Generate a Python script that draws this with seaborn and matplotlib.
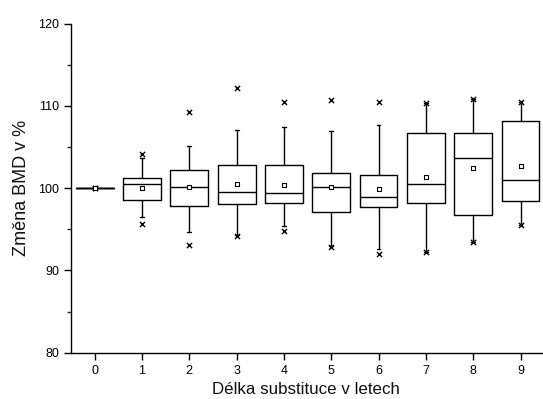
import matplotlib
matplotlib.use("Agg")
import matplotlib.pyplot as plt
import seaborn as sns
import numpy as np
from matplotlib.ticker import MultipleLocator

# ---- data ----
years = [0, 1, 2, 3, 4, 5, 6, 7, 8, 9]
q1 = [100, 98.6, 97.85, 98.05, 98.15, 97.15, 97.75, 98.15, 96.75, 98.45]
medians = [100, 100.5, 100.15, 99.55, 99.45, 100.15, 98.95, 100.5, 103.7, 101.05]
q3 = [100, 101.2, 102.25, 102.8, 102.8, 101.8, 101.6, 106.75, 106.75, 108.2]
whisker_low = [100, 96.5, 94.65, 94.35, 95.4, 92.95, 92.6, 92.25, 93.4, 95.5]
whisker_high = [100, 103.7, 105.1, 107.1, 107.4, 106.9, 107.7, 110.3, 110.8, 110.5]
means = [100, 100.05, 100.2, 100.5, 100.35, 100.15, 99.85, 101.4, 102.5, 102.7]
minima = [100, 95.6, 93.15, 94.15, 94.75, 92.9, 92.0, 92.25, 93.4, 95.5]
maxima = [100, 104.2, 109.25, 112.2, 110.45, 110.75, 110.5, 110.3, 110.8, 110.5]

sns.set_style("ticks")
plt.rcParams['font.family'] = ['Liberation Sans', 'DejaVu Sans']

fig = plt.figure(figsize=(5.43, 3.99), dpi=100)
ax = fig.add_axes([0.1308, 0.116, 0.867, 0.8246])

stats = []
for i in range(len(years)):
    stats.append(dict(q1=q1[i], med=medians[i], q3=q3[i],
                      whislo=whisker_low[i], whishi=whisker_high[i],
                      fliers=[], label=str(years[i])))

lw = 1.0
ax.bxp(stats, positions=years, widths=0.8, showfliers=False, patch_artist=False,
       boxprops=dict(color='black', linewidth=lw),
       medianprops=dict(color='black', linewidth=lw),
       whiskerprops=dict(color='black', linewidth=lw),
       capprops=dict(color='black', linewidth=lw),
       capwidths=0.08, manage_ticks=False)

# min / max markers
sns.scatterplot(x=years, y=minima, marker='x', color='black', s=14,
                linewidth=1.0, ax=ax, zorder=4)
sns.scatterplot(x=years, y=maxima, marker='x', color='black', s=14,
                linewidth=1.0, ax=ax, zorder=4)
# mean markers
sns.scatterplot(x=years, y=means, marker='s', facecolor='white',
                edgecolor='black', s=10, linewidth=0.8, ax=ax, zorder=5)

ax.set_xlim(-0.5, 9.45)
ax.set_ylim(80, 120)
ax.set_xticks(years)
ax.set_xticklabels([str(y) for y in years])
ax.yaxis.set_major_locator(MultipleLocator(10))
ax.yaxis.set_minor_locator(MultipleLocator(5))

for s in ['top', 'right']:
    ax.spines[s].set_visible(False)
for s in ['left', 'bottom']:
    ax.spines[s].set_linewidth(1.0)
    ax.spines[s].set_color('black')

ax.tick_params(axis='both', which='major', direction='out', length=5, width=1.0,
               labelsize=9, colors='black', pad=3.5)
ax.tick_params(axis='y', which='minor', direction='out', length=3, width=1.0)

ax.set_xlabel('Délka substituce v letech', fontsize=12.2, labelpad=4, color='#111111')
ax.set_ylabel('Změna BMD v %', fontsize=13, labelpad=6, color='#111111')

fig.savefig('out.png', dpi=100)
